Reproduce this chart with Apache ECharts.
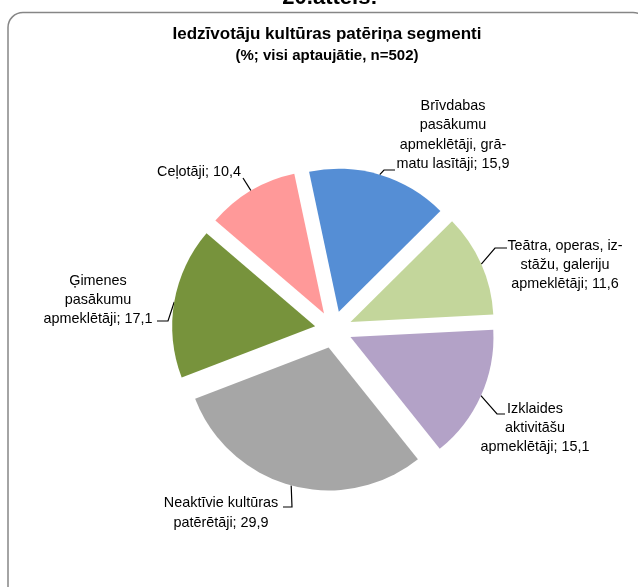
<!DOCTYPE html>
<html>
<head>
<meta charset="utf-8">
<script src="https://cdn.jsdelivr.net/npm/echarts@6/dist/echarts.min.js"></script>
<style>
  html, body { margin: 0; padding: 0; background: #fff; }
  #chart { width: 638px; height: 587px; }
</style>
</head>
<body>
<div id="chart"></div>
<script>
// Segment names (with the line breaks used in the labels)
const segments = [
  'Brīvdabas\npasākumu\napmeklētāji, grā-\nmatu lasītāji',
  'Teātra, operas, iz-\nstāžu, galeriju\napmeklētāji',
  'Izklaides\naktivitāšu\napmeklētāji',
  'Neaktīvie kultūras\npatērētāji',
  'Ģimenes\npasākumu\napmeklētāji',
  'Ceļotāji'
];
// Share of respondents, %
const shares = [15.9, 11.6, 15.1, 29.9, 17.1, 10.4];
const sliceColors = ['#558ED5', '#C3D69B', '#B3A2C7', '#A6A6A6', '#77933C', '#FF9999'];
// Label block centres (px)
const labelPos = [[453, 135], [565, 265], [535, 428], [221, 513], [98, 300], [199, 172]];
// Where each leader line meets its label: offset from the label centre, and length of the level stub
const leaderAnchor = [[-58, 35, -11], [-58, -17, -12], [-30, -14, -8], [62, -6, 9], [59, 21, 11], [44, 6, 0]];

const FONT = "'Liberation Sans', Arial, sans-serif";
const CENTER = [333.5, 329.5];
const RADIUS = 143;
const EXPLODE = 18.6;
const START = 102;

const total = shares.reduce((a, b) => a + b, 0);
// mid-angle of every slice (math degrees, pie runs clockwise from START)
const midAngles = [];
shares.reduce((cum, v) => { midAngles.push(START - 360 * (cum + v / 2) / total); return cum + v; }, 0);

const fmt = v => String(v).replace('.', ',');

const chart = echarts.init(document.getElementById('chart'), null, { renderer: 'canvas' });

chart.setOption({
  animation: false,
  backgroundColor: '#fff',
  title: {
    text: '{a|Iedzīvotāju kultūras patēriņa segmenti}\n{b|(%; visi aptaujātie, n=502)}',
    left: 322,
    top: 18,
    textAlign: 'center',
    textStyle: {
      fontFamily: FONT, fontWeight: 'bold', color: '#000',
      rich: {
        a: { fontFamily: FONT, fontSize: 17, fontWeight: 'bold', color: '#000', lineHeight: 22, align: 'center' },
        b: { fontFamily: FONT, fontSize: 15, fontWeight: 'bold', color: '#000', lineHeight: 22, align: 'center' }
      }
    }
  },
  graphic: [
    {
      type: 'rect',
      shape: { x: 8, y: 12.5, width: 640, height: 620, r: 15 },
      style: { fill: 'none', stroke: '#868686', lineWidth: 1.5 },
      silent: true
    },
    {
      type: 'text',
      x: 330, y: 9,
      style: {
        text: '20.attēls:',
        font: "bold 22px 'Liberation Sans', Arial, sans-serif",
        fill: '#000', align: 'center', verticalAlign: 'bottom'
      },
      silent: true
    }
  ],
  series: [
    {
      // exploded slices
      type: 'pie',
      center: CENTER,
      radius: RADIUS,
      startAngle: START,
      clockwise: true,
      selectedMode: 'multiple',
      selectedOffset: EXPLODE,
      emphasis: { disabled: true },
      silent: true,
      label: { show: false },
      labelLine: { show: false },
      data: shares.map((v, i) => ({
        name: segments[i], value: v, selected: true,
        itemStyle: { color: sliceColors[i] }
      }))
    },
    {
      // transparent twin carrying the labels and leader lines
      type: 'pie',
      center: CENTER,
      radius: RADIUS + EXPLODE,
      startAngle: START,
      clockwise: true,
      avoidLabelOverlap: false,
      emphasis: { disabled: true },
      silent: true,
      itemStyle: { color: 'rgba(0,0,0,0)' },
      data: shares.map((v, i) => ({ name: segments[i], value: v })),
      label: {
        show: true,
        position: 'outside',
        color: '#000',
        fontFamily: FONT,
        fontSize: 14.4,
        lineHeight: 19.3,
        align: 'center',
        formatter: p => p.name + '; ' + fmt(p.value)
      },
      labelLine: { show: true, lineStyle: { color: '#000', width: 1.2 } },
      labelLayout: params => {
        const i = params.dataIndex;
        const [lx, ly] = labelPos[i];
        const [ax, ay, stub] = leaderAnchor[i];
        const a = midAngles[i] * Math.PI / 180;
        const r = RADIUS + EXPLODE;
        const tip = [CENTER[0] + r * Math.cos(a), CENTER[1] - r * Math.sin(a)];
        const end = [lx + ax, ly + ay];
        const knee = [end[0] + stub, end[1]];
        return {
          x: lx, y: ly, align: 'center', verticalAlign: 'middle',
          labelLinePoints: [tip, knee, end]
        };
      }
    }
  ]
});
</script>
</body>
</html>
